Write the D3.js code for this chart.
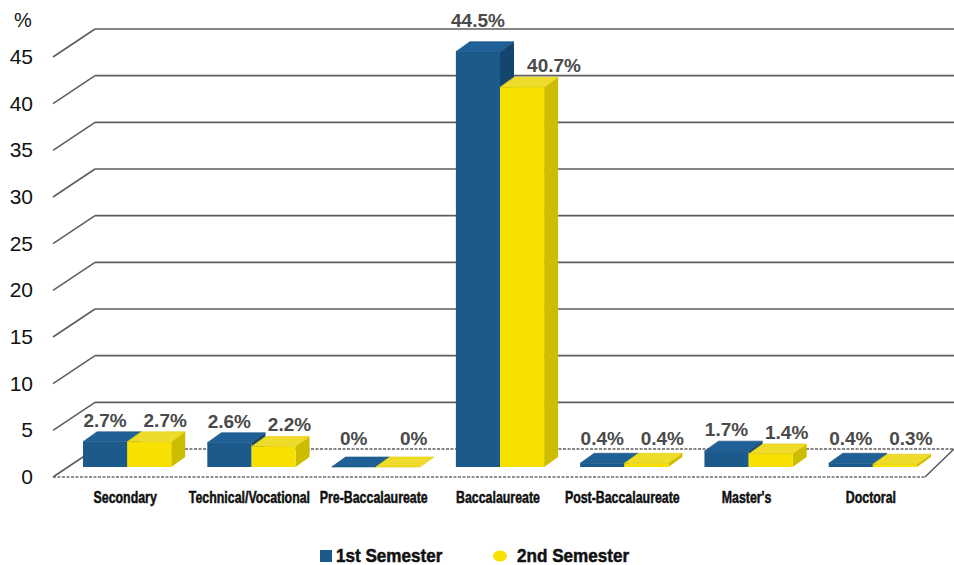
<!DOCTYPE html>
<html><head><meta charset="utf-8">
<script src="https://cdn.jsdelivr.net/npm/d3@7"></script>
<style>
html,body{margin:0;padding:0;background:#fff;}
svg{display:block;}
.cond{font-family:'Liberation Sans',Arial,sans-serif;font-weight:bold;}
</style></head>
<body>
<script>
const categories = ["Secondary","Technical/Vocational","Pre-Baccalaureate","Baccalaureate","Post-Baccalaureate","Master's","Doctoral"];
const sem1 = [2.7, 2.6, 0, 44.5, 0.4, 1.7, 0.4];
const sem2 = [2.7, 2.2, 0, 40.7, 0.4, 1.4, 0.3];
const sem1Labels = ["2.7%","2.6%","0%","44.5%","0.4%","1.7%","0.4%"];
const sem2Labels = ["2.7%","2.2%","0%","40.7%","0.4%","1.4%","0.3%"];
const seriesNames = ["1st Semester","2nd Semester"];
const yTicks = [0,5,10,15,20,25,30,35,40,45];

const W = 954, H = 565;
const svg = d3.select("body").append("svg").attr("width", W).attr("height", H);

// geometry
const floorLeft = 53, floorRight = 925, backRight = 954;
const depthX = 42, depthY = 28;
const y = d3.scaleLinear().domain([0, 45]).range([477, 57]);
const x = d3.scaleBand().domain(categories).range([50, 920]).paddingInner(0.29).paddingOuter(0.145);
const barOffX = 15, barOffY = 10;
const barDX = 14, barDY = 10;

const gridCol = "#5e5e5e";

// floor
svg.append("polygon")
  .attr("points", [[floorLeft, y(0)], [floorRight, y(0)], [backRight, y(0) - depthY], [floorLeft + depthX, y(0) - depthY]].map(p => p.join(",")).join(" "))
  .attr("fill", "#fff").attr("stroke", "none");
svg.append("line").attr("x1", floorLeft).attr("x2", floorRight).attr("y1", y(0)).attr("y2", y(0))
  .attr("stroke", "#6a6a6a").attr("stroke-width", 1.6).attr("stroke-dasharray", "3,1.5");
svg.append("line").attr("x1", floorRight).attr("x2", backRight).attr("y1", y(0)).attr("y2", y(0) - depthY)
  .attr("stroke", "#555").attr("stroke-width", 1.4);

// gridlines
yTicks.forEach(v => {
  const yf = y(v), yb = y(v) - depthY;
  svg.append("line").attr("x1", floorLeft).attr("y1", yf).attr("x2", floorLeft + depthX).attr("y2", yb)
    .attr("stroke", gridCol).attr("stroke-width", 1.6);
  svg.append("line").attr("x1", floorLeft + depthX).attr("y1", yb).attr("x2", backRight).attr("y2", yb)
    .attr("stroke", gridCol).attr("stroke-width", 1.6)
    .attr("stroke-dasharray", v === 0 ? "3,1.5" : null);
});

// tick labels
svg.append("g").selectAll("text").data(yTicks).join("text")
  .attr("x", 33).attr("y", d => y(d) + 7).attr("text-anchor", "end")
  .attr("font-family", "'Liberation Sans',Arial,sans-serif").attr("font-size", 21).attr("fill", "#111")
  .text(d => d);
svg.append("text").attr("x", 23).attr("y", 27).attr("text-anchor", "middle")
  .attr("font-family", "'Liberation Sans',Arial,sans-serif").attr("font-size", 20).attr("fill", "#111").text("%");

// bars
const colors = [
  {front: "#1b5a8b", top: "#1f6096", side: "#14456f"},
  {front: "#f8e100", top: "#efdc2a", side: "#cdbd00"}
];
const bw = x.bandwidth() / 2;
function drawBar(g, x0, v, c) {
  const yb = y(0) - barOffY, yt = yb - (y(0) - y(v));
  const xl = x0 + barOffX, xr = xl + bw;
  g.append("polygon").attr("points", [[xr, yt], [xr + barDX, yt - barDY], [xr + barDX, yb - barDY], [xr, yb]].map(p => p.join(",")).join(" "))
    .attr("fill", c.side);
  g.append("rect").attr("x", xl).attr("y", yt).attr("width", bw).attr("height", yb - yt).attr("fill", c.front);
  g.append("polygon").attr("points", [[xl, yt], [xl + barDX, yt - barDY], [xr + barDX, yt - barDY], [xr, yt]].map(p => p.join(",")).join(" "))
    .attr("fill", c.top).attr("stroke", d3.color(c.front).darker(0.3)).attr("stroke-width", 0.6);
}
const barsG = svg.append("g");
categories.forEach((cat, i) => {
  drawBar(barsG, x(cat), sem1[i], colors[0]);
  drawBar(barsG, x(cat) + bw, sem2[i], colors[1]);
});

// value labels
const lblFont = "'Liberation Sans',Arial,sans-serif";
function labelY(v) { return Math.min(y(v) - barOffY - 15, y(0) - 32); }
categories.forEach((cat, i) => {
  const cx1 = x(cat) + barOffX + bw / 2;
  const cx2 = x(cat) + barOffX + bw * 1.5 + 16 + (sem1[i] - sem2[i] > 1 ? 16 : 0);
  const y1 = labelY(sem1[i]) - (sem1[i] > 44 ? 10 : 0);
  [[cx1, y1, sem1Labels[i]], [cx2, labelY(sem2[i]), sem2Labels[i]]].forEach(([cx, ly, t]) => {
    svg.append("text").attr("x", cx).attr("y", ly).attr("text-anchor", "middle")
      .attr("font-family", lblFont).attr("font-weight", "bold").attr("font-size", 19).attr("fill", "#4a4a4a").text(t);
  });
});

// category labels (condensed via horizontal scale)
svg.append("g").selectAll("text").data(categories).join("text")
  .attr("class", "cond")
  .attr("transform", d => `translate(${x(d) + x.bandwidth() / 2 + 13},503) scale(0.75,1)`)
  .attr("text-anchor", "middle")
  .attr("font-size", 16.5).attr("fill", "#111")
  .attr("stroke", "#111").attr("stroke-width", 0.5).text(d => d);

// legend
const lg = svg.append("g");
lg.append("rect").attr("x", 320).attr("y", 550).attr("width", 12).attr("height", 12).attr("fill", colors[0].front);
lg.append("text").attr("class", "cond").attr("transform", `translate(336,562) scale(0.9,1)`)
  .attr("font-size", 19).attr("fill", "#111").attr("stroke", "#111").attr("stroke-width", 0.5).text(seriesNames[0]);
lg.append("ellipse").attr("cx", 500).attr("cy", 556).attr("rx", 7).attr("ry", 5.5).attr("fill", colors[1].front);
lg.append("text").attr("class", "cond").attr("transform", `translate(517,562) scale(0.9,1)`)
  .attr("font-size", 19).attr("fill", "#111").attr("stroke", "#111").attr("stroke-width", 0.5).text(seriesNames[1]);
</script>
</body></html>
